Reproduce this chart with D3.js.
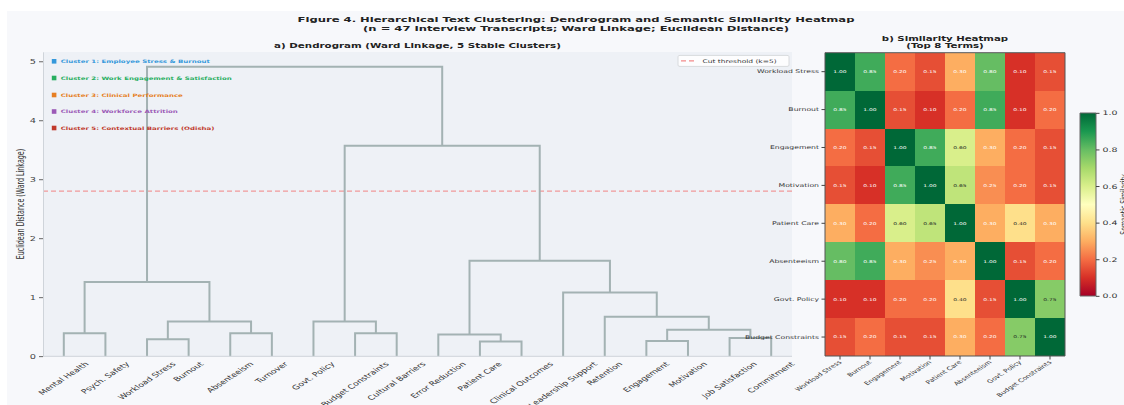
<!DOCTYPE html>
<html><head><meta charset="utf-8">
<script src="https://cdn.jsdelivr.net/npm/d3@7"></script>
<style>
html,body{margin:0;padding:0;background:#fff;}
svg{display:block;font-family:"DejaVu Sans",sans-serif;}
svg path, svg line, svg rect{vector-effect:non-scaling-stroke;}
</style></head><body>
<svg id="chart" width="1124" height="405"></svg>
<script>
// ---------------- data ----------------
const leafLabels = ["Mental Health","Psych. Safety","Workload Stress","Burnout","Absenteeism","Turnover",
  "Govt. Policy","Budget Constraints","Cultural Barriers","Error Reduction","Patient Care","Clinical Outcomes",
  "Leadership Support","Retention","Engagement","Motivation","Job Satisfaction","Commitment"];
// linkage rows (scipy style): node ids >= 18 refer to earlier rows (18 + row index)
const linkLeft   = [0, 2, 4, 19, 18, 7, 6, 10, 9, 14, 16, 27, 13, 12, 26, 24, 22];
const linkRight  = [1, 3, 5, 20, 21, 8, 23, 11, 25, 15, 17, 28, 29, 30, 31, 32, 33];
const linkHeight = [0.39, 0.29, 0.39, 0.59, 1.26, 0.39, 0.59, 0.25, 0.37, 0.26, 0.31, 0.45, 0.67, 1.08, 1.62, 3.57, 4.91];
const dendroYTicks = [0, 1, 2, 3, 4, 5];
const dendroYMax = 5.16;
const cutHeight = 2.8;
const clusterNames = ["Cluster 1: Employee Stress & Burnout","Cluster 2: Work Engagement & Satisfaction",
  "Cluster 3: Clinical Performance","Cluster 4: Workforce Attrition","Cluster 5: Contextual Barriers (Odisha)"];
const clusterColors = ["#3498db","#27ae60","#e67e22","#9b59b6","#c0392b"];

const heatTerms = ["Workload Stress","Burnout","Engagement","Motivation","Patient Care","Absenteeism","Govt. Policy","Budget Constraints"];
const simWorkload   = [1.00, 0.85, 0.20, 0.15, 0.30, 0.80, 0.10, 0.15];
const simBurnout    = [0.85, 1.00, 0.15, 0.10, 0.20, 0.85, 0.10, 0.20];
const simEngagement = [0.20, 0.15, 1.00, 0.85, 0.60, 0.30, 0.20, 0.15];
const simMotivation = [0.15, 0.10, 0.85, 1.00, 0.65, 0.25, 0.20, 0.15];
const simPatient    = [0.30, 0.20, 0.60, 0.65, 1.00, 0.30, 0.40, 0.30];
const simAbsent     = [0.80, 0.85, 0.30, 0.25, 0.30, 1.00, 0.15, 0.20];
const simPolicy     = [0.10, 0.10, 0.20, 0.20, 0.40, 0.15, 1.00, 0.75];
const simBudget     = [0.15, 0.20, 0.15, 0.15, 0.30, 0.20, 0.75, 1.00];
const colorbarTicks = [0.0, 0.2, 0.4, 0.6, 0.8, 1.0];

// ---------------- layout ----------------
const SY = 0.66;                 // vertical compression of the whole figure
const P = v => v / SY;           // picture y -> design y
const svg = d3.select("#chart");
svg.append("rect").attr("width",1124).attr("height",405).attr("fill","#ffffff");
svg.append("rect").attr("x",7).attr("y",11).attr("width",1117).attr("height",394).attr("fill","#f7f8fb");
const g = svg.append("g").attr("transform",`scale(1,${SY})`);

// titles
g.append("text").attr("x",576).attr("y",P(22)).attr("text-anchor","middle")
  .attr("font-size",11.6).attr("font-weight","bold").attr("fill","#222")
  .text("Figure 4. Hierarchical Text Clustering: Dendrogram and Semantic Similarity Heatmap");
g.append("text").attr("x",576).attr("y",P(31)).attr("text-anchor","middle")
  .attr("font-size",11.6).attr("font-weight","bold").attr("fill","#222")
  .text("(n = 47 Interview Transcripts; Ward Linkage; Euclidean Distance)");

// ---------------- dendrogram ----------------
const dX0 = 43, dX1 = 792, dTop = 52, dBot = 356.3;
g.append("rect").attr("x",dX0).attr("y",P(dTop)).attr("width",dX1-dX0).attr("height",P(dBot)-P(dTop)).attr("fill","#eef1f6");
g.append("text").attr("x",(dX0+dX1)/2).attr("y",P(47.8)).attr("text-anchor","middle")
  .attr("font-size",10.3).attr("font-weight","bold").attr("fill","#222")
  .text("a) Dendrogram (Ward Linkage, 5 Stable Clusters)");

const nLeaves = leafLabels.length;
const xD = d3.scalePoint().domain(d3.range(nLeaves)).range([dX0,dX1]).padding(0.5);
const yD = d3.scaleLinear().domain([0,dendroYMax]).range([P(dBot),P(dTop)]);
const nodeX = leafLabels.map((_,i)=>xD(i));
const nodeH = leafLabels.map(()=>0);
const links = linkLeft.map((l,k)=>({l, r:linkRight[k], h:linkHeight[k]}));
links.forEach(d=>{ nodeX.push((nodeX[d.l]+nodeX[d.r])/2); nodeH.push(d.h); });

// threshold
g.append("line").attr("x1",dX0).attr("x2",dX1).attr("y1",yD(cutHeight)).attr("y2",yD(cutHeight))
  .attr("stroke","#f28b8b").attr("stroke-width",1.3).attr("stroke-dasharray","5,3").attr("opacity",0.85);

g.append("g").selectAll("path").data(links).join("path")
  .attr("d",d=>{const p=d3.path(); p.moveTo(nodeX[d.l],yD(nodeH[d.l])); p.lineTo(nodeX[d.l],yD(d.h));
    p.lineTo(nodeX[d.r],yD(d.h)); p.lineTo(nodeX[d.r],yD(nodeH[d.r])); return p.toString();})
  .attr("fill","none").attr("stroke","#a3b2b3").attr("stroke-width",2);

// spines + y axis
const yAx = g.append("g").attr("transform",`translate(${dX0},0)`)
  .call(d3.axisLeft(yD).tickValues(dendroYTicks).tickFormat(d3.format("d")).tickSize(4).tickSizeOuter(0).tickPadding(3));
yAx.select(".domain").attr("stroke","#cfd4da");
yAx.selectAll(".tick line").attr("stroke","#666");
yAx.selectAll(".tick text").attr("font-size",9.8).attr("fill","#444").attr("font-family","DejaVu Sans");
g.append("line").attr("x1",dX0).attr("x2",dX1).attr("y1",P(dBot)).attr("y2",P(dBot)).attr("stroke","#cfd4da");
g.append("text").attr("transform",`translate(23.5,${P(204)}) rotate(-90)`).attr("text-anchor","middle")
  .attr("font-size",9.6).attr("fill","#333").text("Euclidean Distance (Ward Linkage)");

// leaf labels: rotated, centred on the leaf, bounding box top just below the axis
const leafFs = 9.5;
g.append("g").selectAll("text").data(leafLabels).join("text")
  .attr("text-anchor","middle").attr("dominant-baseline","central")
  .attr("font-size",leafFs).attr("fill","#333").text(d=>d)
  .each(function(d,i){
    const len = this.getComputedTextLength();
    const half = (len + leafFs*1.15) * Math.SQRT1_2 / 2;
    d3.select(this).attr("transform",`translate(${xD(i)},${P(360.5)+half}) rotate(-45)`);
  });

// cluster legend (text)
const clY = [61.3, 78, 95, 111.5, 128];
const cl = g.append("g").selectAll("g").data(clusterNames).join("g")
  .attr("transform",(d,i)=>`translate(0,${P(clY[i])})`);
cl.append("rect").attr("x",51.8).attr("y",-P(2.3)).attr("width",4.6).attr("height",P(4.6)).attr("fill",(d,i)=>clusterColors[i]);
cl.append("text").attr("x",60.7).attr("dy","0.36em").attr("font-size",7).attr("font-weight","bold")
  .attr("fill",(d,i)=>clusterColors[i]).text(d=>d);

// threshold legend
g.append("rect").attr("x",678).attr("y",P(55.4)).attr("width",111).attr("height",P(66.4)-P(55.4))
  .attr("rx",2).attr("fill","#ffffff").attr("fill-opacity",0.85).attr("stroke","#d8dadd");
g.append("line").attr("x1",681).attr("x2",694).attr("y1",P(60.9)).attr("y2",P(60.9))
  .attr("stroke","#f28b8b").attr("stroke-width",1.3).attr("stroke-dasharray","5,3");
g.append("text").attr("x",702.5).attr("y",P(60.9)).attr("dy","0.36em").attr("font-size",7.5).attr("fill","#333")
  .text("Cut threshold (k=5)");

// ---------------- heatmap ----------------
const hX0 = 825, hX1 = 1065, hTop = 52.7, hBot = 356;
const simMatrix = [simWorkload, simBurnout, simEngagement, simMotivation, simPatient, simAbsent, simPolicy, simBudget];
const xH = d3.scaleBand().domain(heatTerms).range([hX0,hX1]);
const yH = d3.scaleBand().domain(heatTerms).range([P(hTop),P(hBot)]);
const rdylgn = d3.schemeRdYlGn[11];
const color = d3.scaleLinear().domain(d3.range(11).map(i=>i/10)).range(rdylgn).interpolate(d3.interpolateRgb);

g.append("text").attr("x",(hX0+hX1)/2).attr("y",P(40.7)).attr("text-anchor","middle")
  .attr("font-size",10.2).attr("font-weight","bold").attr("fill","#222").text("b) Similarity Heatmap");
g.append("text").attr("x",(hX0+hX1)/2).attr("y",P(48.3)).attr("text-anchor","middle")
  .attr("font-size",10.2).attr("font-weight","bold").attr("fill","#222").text("(Top 8 Terms)");

const cells = [];
simMatrix.forEach((row,ri)=>row.forEach((v,ci)=>cells.push({r:heatTerms[ri], c:heatTerms[ci], v})));
g.append("g").selectAll("rect").data(cells).join("rect")
  .attr("x",d=>xH(d.c)).attr("y",d=>yH(d.r)).attr("width",xH.bandwidth()).attr("height",yH.bandwidth())
  .attr("fill",d=>color(d.v)).attr("shape-rendering","crispEdges");
g.append("g").selectAll("text").data(cells).join("text")
  .attr("x",d=>xH(d.c)+xH.bandwidth()/2).attr("y",d=>yH(d.r)+yH.bandwidth()/2).attr("dy","0.36em")
  .attr("text-anchor","middle").attr("font-size",6)
  .attr("fill",d=>(d.v>0.35 && d.v<0.78) ? "#222" : "#ffffff").text(d=>d.v.toFixed(2));
g.append("rect").attr("x",hX0).attr("y",P(hTop)).attr("width",hX1-hX0).attr("height",P(hBot)-P(hTop))
  .attr("fill","none").attr("stroke","#555").attr("stroke-width",1);

const hyAx = g.append("g").attr("transform",`translate(${hX0},0)`).call(d3.axisLeft(yH).tickSize(3.5).tickPadding(2.5));
hyAx.select(".domain").remove();
hyAx.selectAll(".tick line").attr("stroke","#444");
hyAx.selectAll(".tick text").attr("font-size",7.7).attr("fill","#333").attr("font-family","DejaVu Sans");
const hxAx = g.append("g").attr("transform",`translate(0,${P(hBot)})`).call(d3.axisBottom(xH).tickSize(P(3.5)).tickFormat(""));
hxAx.select(".domain").remove();
hxAx.selectAll(".tick line").attr("stroke","#444");
g.append("g").selectAll("text").data(heatTerms).join("text")
  .attr("transform",d=>`translate(${xH(d)+xH.bandwidth()/2+2},${P(hBot)+10}) rotate(-45)`)
  .attr("text-anchor","end").attr("font-size",7.7).attr("fill","#333").text(d=>d);

// colorbar
const cbX = 1080, cbW = 16, cbTop = 113, cbBot = 296;
const grad = svg.append("defs").append("linearGradient").attr("id","cbgrad")
  .attr("x1",0).attr("y1",1).attr("x2",0).attr("y2",0);
d3.range(11).forEach(i=>grad.append("stop").attr("offset",i/10).attr("stop-color",color(i/10)));
g.append("rect").attr("x",cbX).attr("y",P(cbTop)).attr("width",cbW).attr("height",P(cbBot)-P(cbTop))
  .attr("fill","url(#cbgrad)").attr("stroke","#666").attr("stroke-width",1);
const yCb = d3.scaleLinear().domain([0,1]).range([P(cbBot),P(cbTop)]);
const cbAx = g.append("g").attr("transform",`translate(${cbX+cbW},0)`)
  .call(d3.axisRight(yCb).tickValues(colorbarTicks).tickFormat(d3.format(".1f")).tickSize(3.5).tickPadding(3));
cbAx.select(".domain").remove();
cbAx.selectAll(".tick line").attr("stroke","#444");
cbAx.selectAll(".tick text").attr("font-size",9.4).attr("fill","#333").attr("font-family","DejaVu Sans");
g.append("text").attr("transform",`translate(1126.5,${P((cbTop+cbBot)/2)}) rotate(-90)`).attr("text-anchor","middle")
  .attr("font-size",9.4).attr("fill","#333").text("Semantic Similarity");
</script>
</body></html>
